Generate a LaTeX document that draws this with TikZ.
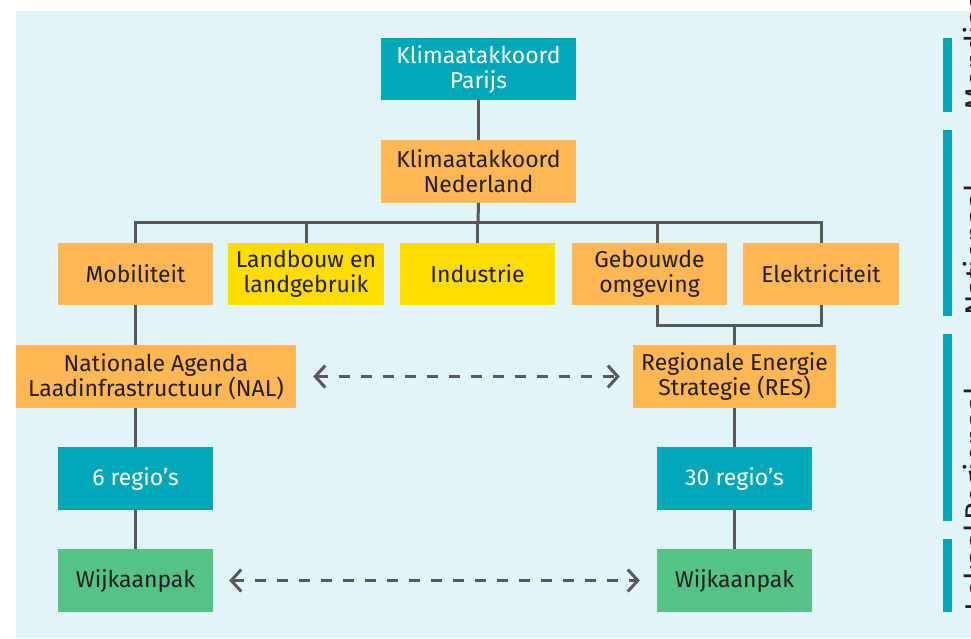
\documentclass[tikz,border=0pt]{standalone}
\usepackage{fontspec}
\setmainfont{Fira Sans}
\usetikzlibrary{arrows.meta}
\definecolor{bgc}{HTML}{E1F4F7}
\definecolor{tealc}{HTML}{00A7B9}
\definecolor{orangec}{HTML}{FFB655}
\definecolor{yellowc}{HTML}{FFDD00}
\definecolor{greenc}{HTML}{56C386}
\definecolor{linec}{HTML}{58595B}
\definecolor{textc}{HTML}{231F20}
\tikzset{
  box/.style={minimum height=62.5pt, inner sep=0pt, align=center,
    font=\fontsize{23}{25}\selectfont, text=textc},
  tealbox/.style={box, fill=tealc, text=white},
  orangebox/.style={box, fill=orangec},
  yellowbox/.style={box, fill=yellowc},
  greenbox/.style={box, fill=greenc},
  conn/.style={draw=linec, line width=3pt},
  dasharrow/.style={conn, dash pattern=on 11pt off 11pt,
    {Straight Barb[length=10pt,width=22pt,line cap=butt]}-{Straight Barb[length=10pt,width=22pt,line cap=butt]}},
  levelbar/.style={fill=tealc},
  levellabel/.style={rotate=90, anchor=base west, inner sep=0pt,
    font=\fontsize{30}{32}\selectfont, text=textc}
}
\begin{document}
\begin{tikzpicture}[x=1pt,y=-1pt]
\useasboundingbox (0,0) rectangle (971,638);
\clip (0,0) rectangle (971,638);
\fill[bgc] (16,11) rectangle (971,638);

% level bars and labels
\fill[levelbar] (943,38) rectangle (952,112);
\fill[levelbar] (943,130) rectangle (952,316);
\fill[levelbar] (943,334) rectangle (952,521);
\fill[levelbar] (943,539) rectangle (952,612);
\node[levellabel] (lm) at (986,111) {Mondiaal};
\node[levellabel] (ln) at (986,316) {Nationaal};
\node[levellabel] (lr) at (986,521) {Regionaal};
\node[levellabel] (ll) at (986,612) {Lokaal};

% nodes
\node[tealbox, minimum width=195pt] (parijs) at (478.5,69) {Klimaatakkoord\\Parijs};
\node[orangebox, minimum width=195pt] (ned) at (478.5,171.5) {Klimaatakkoord\\Nederland};
\node[orangebox, minimum width=155pt] (mob) at (135.5,274) {Mobiliteit};
\node[yellowbox, minimum width=156pt] (land) at (306,274) {Landbouw en\\landgebruik};
\node[yellowbox, minimum width=155pt] (ind) at (477.5,274) {Industrie};
\node[orangebox, minimum width=155pt] (geb) at (649.5,274) {Gebouwde\\omgeving};
\node[orangebox, minimum width=156pt] (elek) at (821,274) {Elektriciteit};
\node[orangebox, minimum width=280pt] (nal) at (156,376.5) {Nationale Agenda\\Laadinfrastructuur (NAL)};
\node[orangebox, minimum width=203pt] (res) at (734.5,376.5) {Regionale Energie\\Strategie (RES)};
\node[tealbox, minimum width=155pt] (r6) at (135.5,478.5) {6 regio’s};
\node[tealbox, minimum width=155pt] (r30) at (734.5,478.5) {30 regio’s};
\node[greenbox, minimum width=155pt] (wl) at (135.5,580.5) {Wijkaanpak};
\node[greenbox, minimum width=155pt] (wr) at (734.5,580.5) {Wijkaanpak};

% junction coordinates
\coordinate (bus) at (478,222);
\coordinate (join) at (734.5,325);

% connectors
\draw[conn] (parijs.south) -- (ned.north);
\draw[conn] (ned.south) -- (bus);
\draw[conn] (mob.north) -- (mob.north |- bus) -- (elek.north |- bus) -- (elek.north);
\draw[conn] (land.north) -- (land.north |- bus);
\draw[conn] (ind.north) -- (ind.north |- bus);
\draw[conn] ([xshift=7.5pt]geb.north) -- ([xshift=7.5pt]geb.north |- bus);
\draw[conn] ([xshift=7.5pt]geb.south) -- ([xshift=7.5pt]geb.south |- join) -- (elek.south |- join) -- (elek.south);
\draw[conn] (join) -- (res.north);
\draw[conn] (mob.south) -- (mob.south |- nal.north);
\draw[conn] (r6.north |- nal.south) -- (r6.north);
\draw[conn] (r6.south) -- (wl.north);
\draw[conn] (res.south) -- (r30.north);
\draw[conn] (r30.south) -- (wr.north);

% dashed double arrows
\draw[dasharrow] ([xshift=17pt]nal.east) -- ([xshift=-13pt]res.west);
\draw[dasharrow] ([xshift=16pt]wl.east) -- ([xshift=-17pt]wr.west);
\end{tikzpicture}
\end{document}
